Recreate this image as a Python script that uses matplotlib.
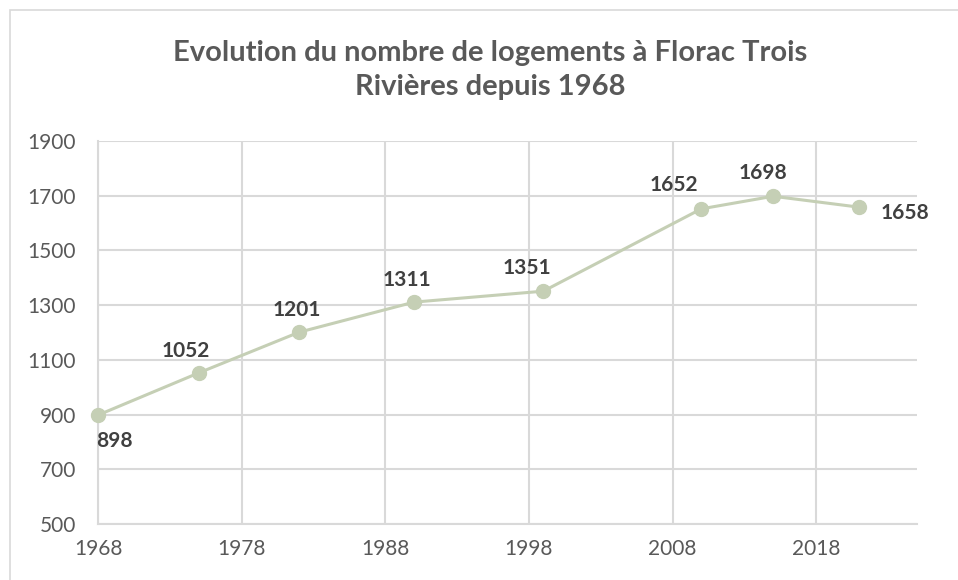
import matplotlib
matplotlib.use("Agg")
import matplotlib.pyplot as plt
from matplotlib.patches import Rectangle

# Données : nombre de logements par recensement
annees = [1968, 1975, 1982, 1990, 1999, 2010, 2015, 2021]
logements = [898, 1052, 1201, 1311, 1351, 1652, 1698, 1658]

# Décalage des étiquettes (en points) pour imiter la mise en page d'origine
decalages = [(12, -19), (-9, 16), (-2, 16), (-5, 16), (-12, 17), (-20, 17), (-7, 17), (33, -4)]

plt.rcParams['font.family'] = ['Lato', 'DejaVu Sans']

gris_texte = '#595959'
gris_grille = '#d9d9d9'
vert = '#c5cfb5'

fig = plt.figure(figsize=(9.58, 5.8), dpi=100)
ax = fig.add_axes([0.1023, 0.0966, 0.8547, 0.6603])

# cadre autour du graphique
fig.patches.append(Rectangle((10 / 958, -0.02), 1.2, 1 - 10 / 580 + 0.02,
                             transform=fig.transFigure, fill=False,
                             edgecolor=gris_grille, linewidth=1.2))

ax.plot(annees, logements, color=vert, linewidth=2.2, marker='o',
        markersize=10, zorder=3, clip_on=False)

for x, y, (dx, dy) in zip(annees, logements, decalages):
    ax.annotate(str(y), (x, y), xytext=(dx, dy), textcoords='offset points',
                ha='center', va='center', fontsize=15, fontweight='bold',
                color='#404040')

ax.set_xlim(1968, 2025)
ax.set_ylim(500, 1900)
ax.set_xticks(range(1968, 2019, 10))
ax.set_yticks(range(500, 1901, 200))

ax.grid(True, color=gris_grille, linewidth=1.5)
ax.set_axisbelow(True)
for s in ['top', 'right']:
    ax.spines[s].set_visible(False)
for s in ['left', 'bottom']:
    ax.spines[s].set_color(gris_grille)
    ax.spines[s].set_linewidth(1.5)

ax.tick_params(length=0, labelsize=15, labelcolor=gris_texte)
ax.tick_params(axis='x', pad=11)
ax.tick_params(axis='y', pad=16)

fig.text(0.512, 0.879, "Evolution du nombre de logements à Florac Trois\nRivières depuis 1968",
         ha='center', va='center', fontsize=21, fontweight='bold',
         color=gris_texte, linespacing=1.4)

fig.savefig('out.png', dpi=100)
